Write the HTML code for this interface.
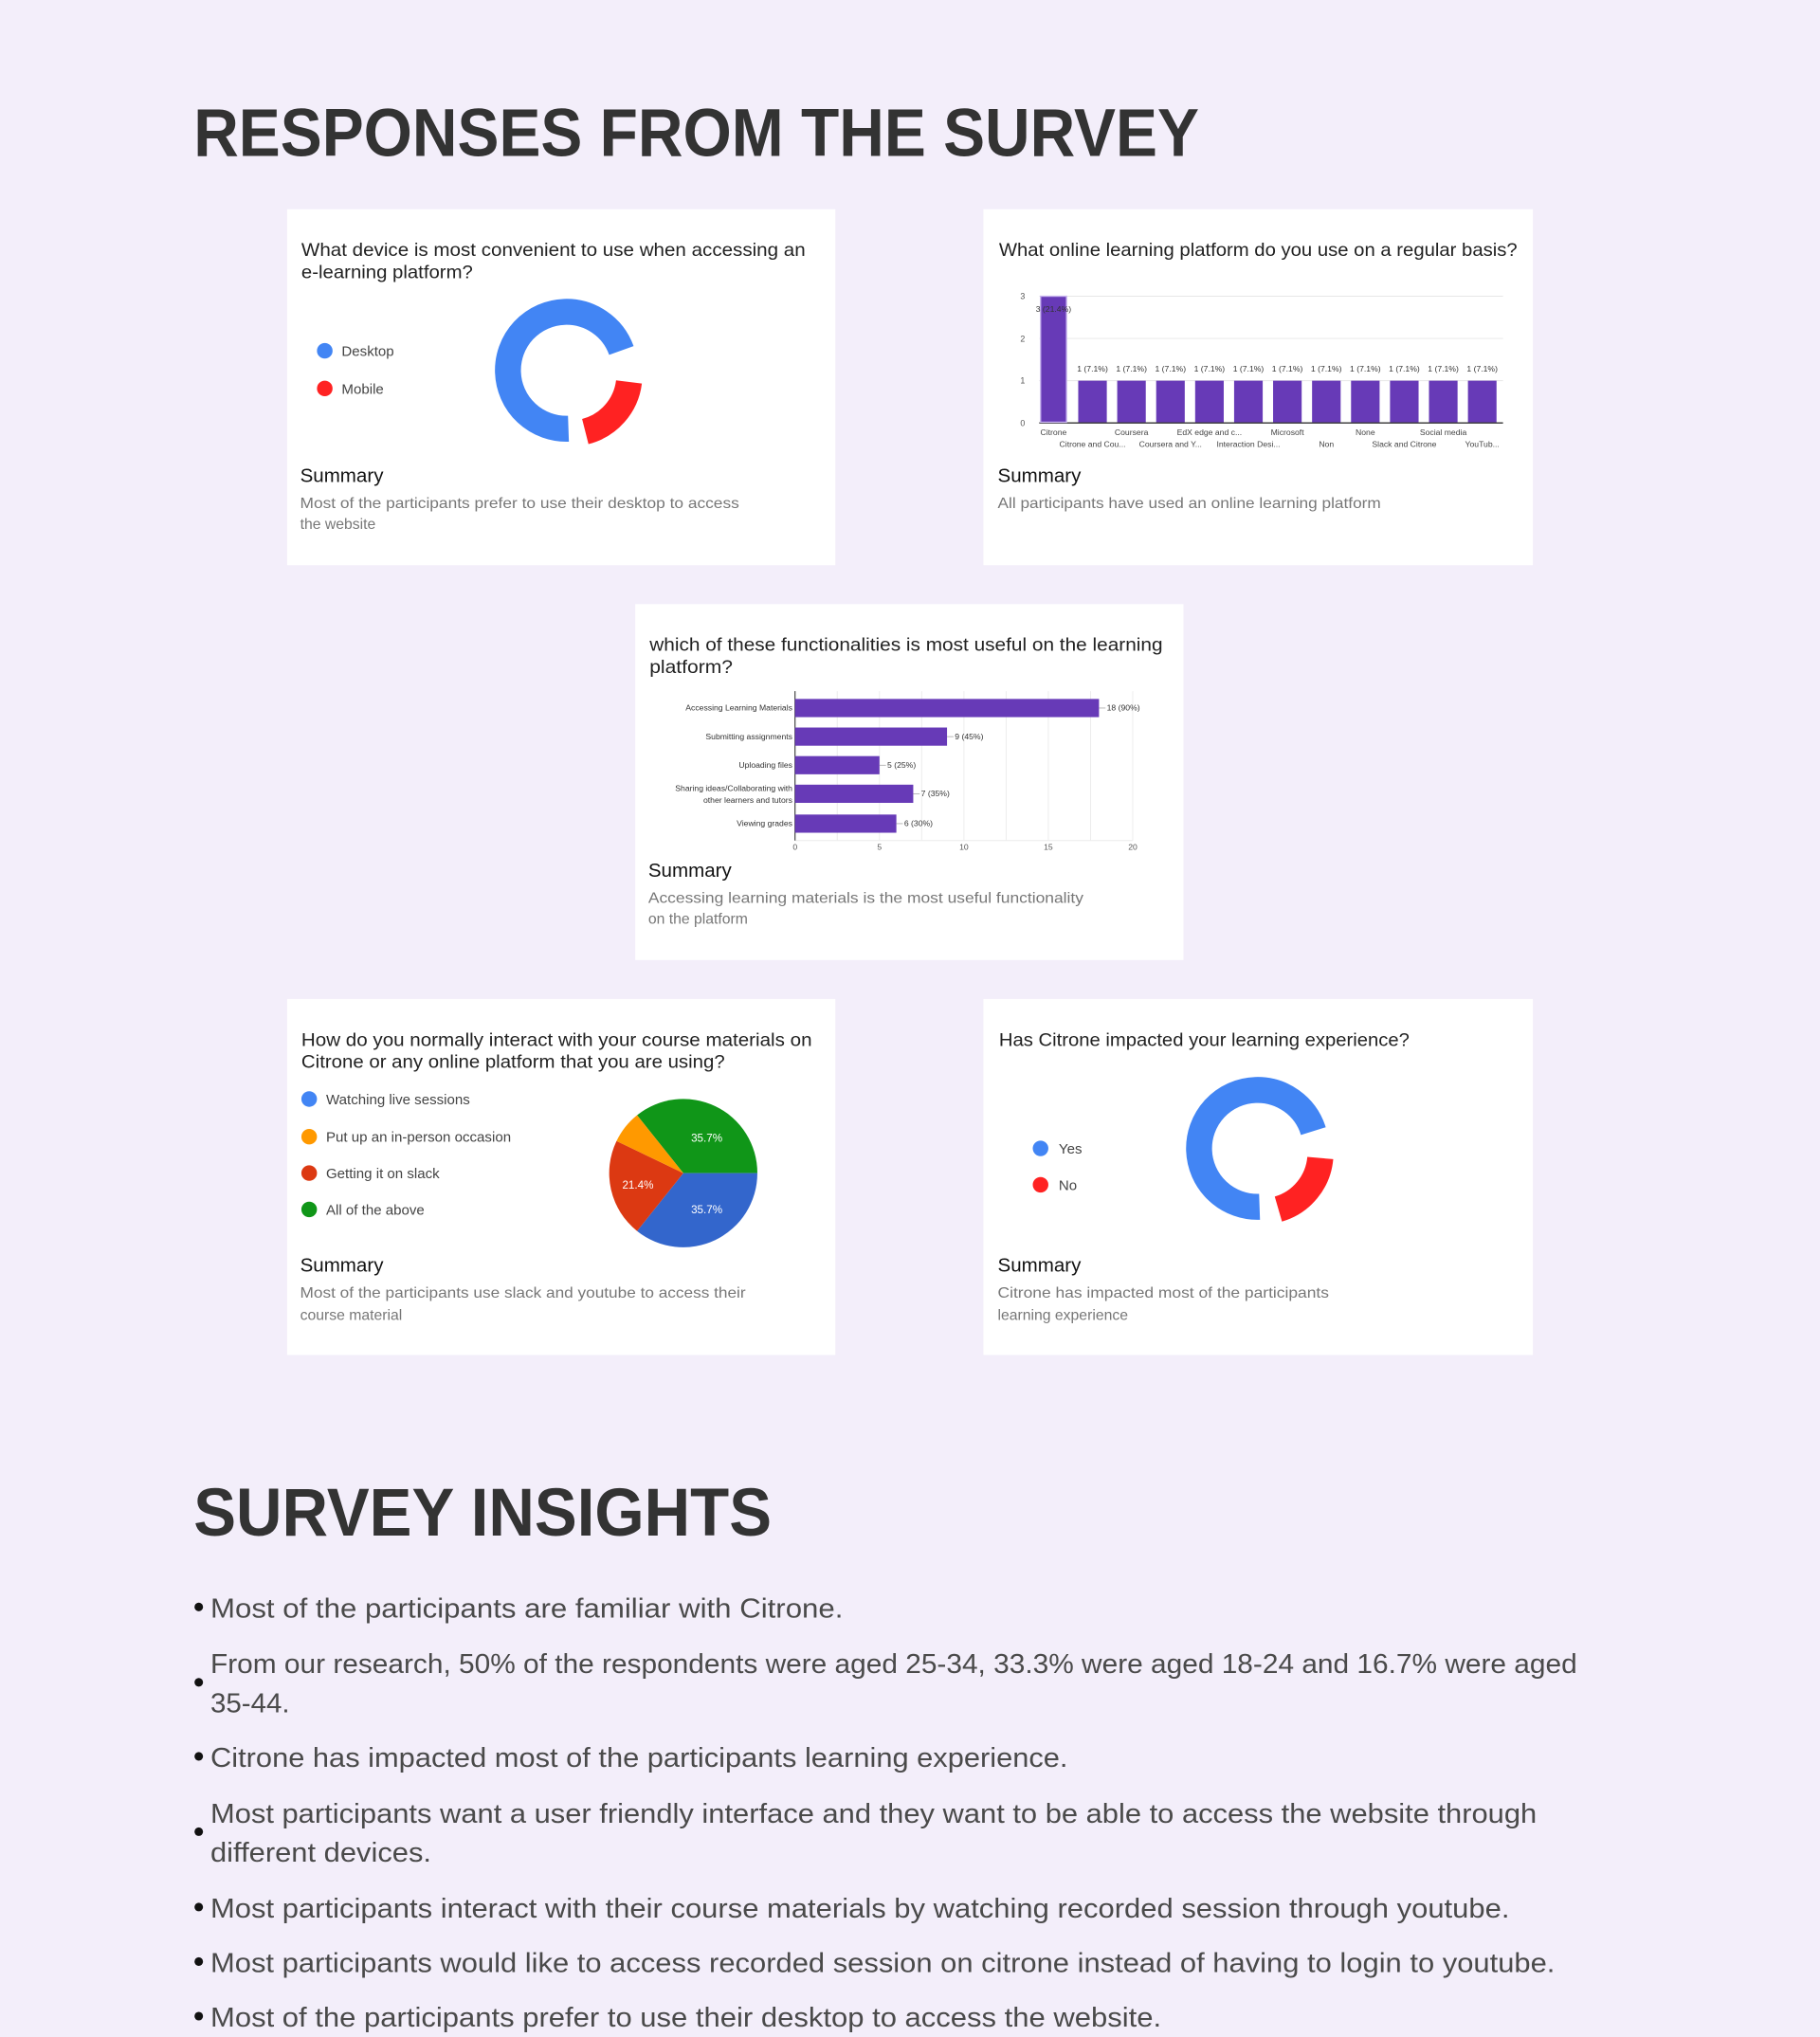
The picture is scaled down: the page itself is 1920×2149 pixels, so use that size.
<!DOCTYPE html>
<html><head><meta charset="utf-8"><style>
html,body{margin:0;padding:0;background:#f3eefa;width:1920px;height:2149px;overflow:hidden}
svg{display:block}
text{font-family:"Liberation Sans",sans-serif}
</style></head><body>
<svg width="1920" height="2149" viewBox="0 0 1401 1568" xmlns="http://www.w3.org/2000/svg">
<rect width="1401" height="1568" fill="#f3eefa"/>
<text x="149" y="120" font-size="52" font-weight="bold" fill="#333" textLength="774" lengthAdjust="spacingAndGlyphs">RESPONSES FROM THE SURVEY</text>

<rect x="221" y="161" width="422" height="274" fill="#fff"/>
<rect x="757" y="161" width="423" height="274" fill="#fff"/>
<rect x="489" y="465" width="422" height="274" fill="#fff"/>
<rect x="221" y="769" width="422" height="274" fill="#fff"/>
<rect x="757" y="769" width="423" height="274" fill="#fff"/>

<g font-size="14" fill="#222">
<text x="232" y="197" textLength="388" lengthAdjust="spacingAndGlyphs">What device is most convenient to  use when accessing an</text>
<text x="232" y="214" textLength="132" lengthAdjust="spacingAndGlyphs">e-learning platform?</text>
<text x="769" y="197" textLength="399" lengthAdjust="spacingAndGlyphs">What online learning platform do you use on a regular basis?</text>
<text x="500" y="501" textLength="395" lengthAdjust="spacingAndGlyphs">which of these functionalities is most useful on the learning</text>
<text x="500" y="518" textLength="64" lengthAdjust="spacingAndGlyphs">platform?</text>
<text x="232" y="805" textLength="393" lengthAdjust="spacingAndGlyphs">How do you normally interact with your course materials on</text>
<text x="232" y="822" textLength="326" lengthAdjust="spacingAndGlyphs">Citrone or any online platform that you are using?</text>
<text x="769" y="805" textLength="316" lengthAdjust="spacingAndGlyphs">Has Citrone impacted your learning experience?</text>
</g>
<g font-size="15" fill="#111">
<text x="231" y="371">Summary</text>
<text x="768" y="371">Summary</text>
<text x="499" y="675">Summary</text>
<text x="231" y="979">Summary</text>
<text x="768" y="979">Summary</text>
</g>
<g font-size="11.5" fill="#777">
<text x="231" y="391" textLength="338" lengthAdjust="spacingAndGlyphs">Most of the participants prefer to use their desktop to access</text>
<text x="231" y="407">the website</text>
<text x="768" y="391" textLength="295" lengthAdjust="spacingAndGlyphs">All participants have used an online learning platform</text>
<text x="499" y="695" textLength="335" lengthAdjust="spacingAndGlyphs">Accessing learning materials is the most useful functionality</text>
<text x="499" y="711">on the platform</text>
<text x="231" y="999" textLength="343" lengthAdjust="spacingAndGlyphs">Most of the participants use slack and youtube to access their</text>
<text x="231" y="1016">course material</text>
<text x="768" y="999" textLength="255" lengthAdjust="spacingAndGlyphs">Citrone has impacted most of the participants</text>
<text x="768" y="1016">learning experience</text>
</g>

<circle cx="250" cy="270" r="6" fill="#4285f4"/><circle cx="250" cy="299" r="6" fill="#f22"/>
<g font-size="11" fill="#444"><text x="263" y="274">Desktop</text><text x="263" y="303">Mobile</text></g>
<g fill="none" stroke-width="20">
<circle cx="437" cy="286" r="45" stroke="#4285f4" stroke-dasharray="198 400" transform="translate(-1,-1) rotate(88 437 286)"/>
<circle cx="437" cy="286" r="45" stroke="#f22" stroke-dasharray="54 400" transform="translate(2.5,2.5) rotate(7 437 286)"/>
</g>

<circle cx="801" cy="884" r="6" fill="#4285f4"/><circle cx="801" cy="912" r="6" fill="#f22"/>
<g font-size="11" fill="#444"><text x="815" y="888">Yes</text><text x="815" y="916">No</text></g>
<g fill="none" stroke-width="20">
<circle cx="969" cy="885" r="45" stroke="#4285f4" stroke-dasharray="200 400" transform="translate(-1,-1) rotate(88 969 885)"/>
<circle cx="969" cy="885" r="45" stroke="#f22" stroke-dasharray="54 400" transform="translate(2.5,2.5) rotate(5 969 885)"/>
</g>

<g font-size="11" fill="#444">
<circle cx="238" cy="846" r="6" fill="#4285f4"/><text x="251" y="850">Watching live sessions</text>
<circle cx="238" cy="875" r="6" fill="#ff9900"/><text x="251" y="879">Put up an in-person occasion</text>
<circle cx="238" cy="903" r="6" fill="#dc3912"/><text x="251" y="907">Getting it on slack</text>
<circle cx="238" cy="931" r="6" fill="#109618"/><text x="251" y="935">All of the above</text>
</g>
<path d="M526 903 L490.4 858.4 A57 57 0 0 1 583 903 Z" fill="#109618"/>
<path d="M526 903 L583 903 A57 57 0 0 1 490.4 947.6 Z" fill="#3366cc"/>
<path d="M526 903 L490.4 947.6 A57 57 0 0 1 474.6 878.3 Z" fill="#dc3912"/>
<path d="M526 903 L474.6 878.3 A57 57 0 0 1 490.4 858.4 Z" fill="#ff9900"/>
<g font-size="8.5" fill="#fff"><text x="532" y="879">35.7%</text><text x="532" y="934">35.7%</text><text x="479" y="915">21.4%</text></g>

<g stroke="#e6e6e6" stroke-width="0.7"><line x1="800" y1="228" x2="1157" y2="228"/><line x1="800" y1="260.5" x2="1157" y2="260.5"/><line x1="800" y1="293" x2="1157" y2="293"/></g>
<line x1="800" y1="325.5" x2="1157" y2="325.5" stroke="#333" stroke-width="1"/>
<g font-size="6.5" fill="#555" text-anchor="end"><text x="789" y="230">3</text><text x="789" y="263">2</text><text x="789" y="295">1</text><text x="789" y="328">0</text></g>
<rect x="801" y="228" width="20" height="97" fill="#673ab7" stroke="#c8b5ee" stroke-width="1"/>
<g fill="#673ab7">
<rect x="830" y="293" width="22" height="32"/><rect x="860" y="293" width="22" height="32"/><rect x="890" y="293" width="22" height="32"/><rect x="920" y="293" width="22" height="32"/><rect x="950" y="293" width="22" height="32"/><rect x="980" y="293" width="22" height="32"/><rect x="1010" y="293" width="22" height="32"/><rect x="1040" y="293" width="22" height="32"/><rect x="1070" y="293" width="22" height="32"/><rect x="1100" y="293" width="22" height="32"/><rect x="1130" y="293" width="22" height="32"/>
</g>
<g font-size="6.3" fill="#333" text-anchor="middle">
<text x="811" y="240">3 (21.4%)</text>
<text x="841" y="286">1 (7.1%)</text><text x="871" y="286">1 (7.1%)</text><text x="901" y="286">1 (7.1%)</text><text x="931" y="286">1 (7.1%)</text><text x="961" y="286">1 (7.1%)</text><text x="991" y="286">1 (7.1%)</text><text x="1021" y="286">1 (7.1%)</text><text x="1051" y="286">1 (7.1%)</text><text x="1081" y="286">1 (7.1%)</text><text x="1111" y="286">1 (7.1%)</text><text x="1141" y="286">1 (7.1%)</text>
</g>
<g font-size="6.3" fill="#444" text-anchor="middle">
<text x="811" y="335">Citrone</text><text x="871" y="335">Coursera</text><text x="931" y="335">EdX edge and c...</text><text x="991" y="335">Microsoft</text><text x="1051" y="335">None</text><text x="1111" y="335">Social media</text>
<text x="841" y="344">Citrone and Cou...</text><text x="901" y="344">Coursera and Y...</text><text x="961" y="344">Interaction Desi...</text><text x="1021" y="344">Non</text><text x="1081" y="344">Slack and Citrone</text><text x="1141" y="344">YouTub...</text>
</g>

<g stroke="#ececec" stroke-width="0.7">
<line x1="644.5" y1="532" x2="644.5" y2="647"/><line x1="677" y1="532" x2="677" y2="647"/><line x1="709.5" y1="532" x2="709.5" y2="647"/><line x1="742" y1="532" x2="742" y2="647"/><line x1="774.5" y1="532" x2="774.5" y2="647"/><line x1="807" y1="532" x2="807" y2="647"/><line x1="839.5" y1="532" x2="839.5" y2="647"/><line x1="872" y1="532" x2="872" y2="647"/><line x1="612" y1="647" x2="872" y2="647"/>
</g>
<line x1="612" y1="532" x2="612" y2="647" stroke="#333" stroke-width="0.8"/>
<g fill="#673ab7">
<rect x="612" y="538" width="234" height="14"/><rect x="612" y="560" width="117" height="14"/><rect x="612" y="582" width="65" height="14"/><rect x="612" y="604" width="91" height="14"/><rect x="612" y="627" width="78" height="14"/>
</g>
<g stroke="#999" stroke-width="0.5"><line x1="846" y1="545" x2="851" y2="545"/><line x1="729" y1="567" x2="734" y2="567"/><line x1="677" y1="589" x2="682" y2="589"/><line x1="703" y1="611" x2="708" y2="611"/><line x1="690" y1="634" x2="695" y2="634"/></g>
<g font-size="6.3" fill="#333">
<text x="852" y="547">18 (90%)</text><text x="735" y="569">9 (45%)</text><text x="683" y="591">5 (25%)</text><text x="709" y="613">7 (35%)</text><text x="696" y="636">6 (30%)</text>
</g>
<g font-size="6.3" fill="#333" text-anchor="end">
<text x="610" y="547">Accessing Learning Materials</text><text x="610" y="569">Submitting assignments</text><text x="610" y="591">Uploading files</text><text x="610" y="609">Sharing ideas/Collaborating with</text><text x="610" y="618">other learners and tutors</text><text x="610" y="636">Viewing grades</text>
</g>
<g font-size="6.3" fill="#555" text-anchor="middle"><text x="612" y="654">0</text><text x="677" y="654">5</text><text x="742" y="654">10</text><text x="807" y="654">15</text><text x="872" y="654">20</text></g>

<text x="149" y="1182" font-size="52" font-weight="bold" fill="#333" textLength="445" lengthAdjust="spacingAndGlyphs">SURVEY INSIGHTS</text>
<g fill="#111"><circle cx="153" cy="1237" r="3.3"/><circle cx="153" cy="1295" r="3.3"/><circle cx="153" cy="1352" r="3.3"/><circle cx="153" cy="1410" r="3.3"/><circle cx="153" cy="1468" r="3.3"/><circle cx="153" cy="1510" r="3.3"/><circle cx="153" cy="1552" r="3.3"/></g>
<g font-size="21" fill="#4a4a4a">
<text x="162" y="1245" textLength="487" lengthAdjust="spacingAndGlyphs">Most of the participants are familiar with Citrone.</text>
<text x="162" y="1288" textLength="1052" lengthAdjust="spacingAndGlyphs">From our research, 50% of the respondents were aged 25-34, 33.3% were aged 18-24 and 16.7% were aged</text>
<text x="162" y="1318" textLength="61" lengthAdjust="spacingAndGlyphs">35-44.</text>
<text x="162" y="1360" textLength="660" lengthAdjust="spacingAndGlyphs">Citrone has impacted most of the participants learning experience.</text>
<text x="162" y="1403" textLength="1021" lengthAdjust="spacingAndGlyphs">Most participants want a user friendly interface and they want to be able to access the website through</text>
<text x="162" y="1433" textLength="170" lengthAdjust="spacingAndGlyphs">different devices.</text>
<text x="162" y="1476" textLength="1000" lengthAdjust="spacingAndGlyphs">Most participants interact with their course materials by watching recorded session through youtube.</text>
<text x="162" y="1518" textLength="1035" lengthAdjust="spacingAndGlyphs">Most participants would like to access recorded session on citrone instead of having to login to youtube.</text>
<text x="162" y="1560" textLength="732" lengthAdjust="spacingAndGlyphs">Most of the participants prefer to use their desktop to access the website.</text>
</g>
</svg>
</body></html>
